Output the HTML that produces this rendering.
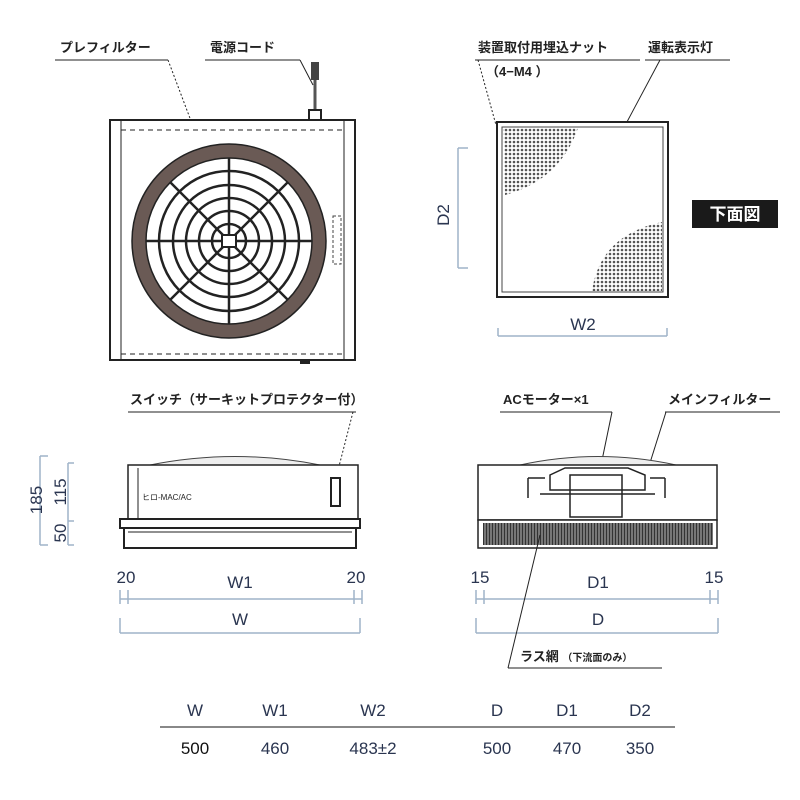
<!DOCTYPE html>
<html><head><meta charset="utf-8"><style>
body{margin:0;background:#fff}
svg{display:block}
text{font-family:"Liberation Sans","Noto Sans CJK JP",sans-serif}
.jp{font-size:13px;font-weight:bold;fill:#222}
.dim{font-size:17px;fill:#2a3550}
.dl{stroke:#9fb3c8;stroke-width:1.5;fill:none}
.k{stroke:#222;fill:none}
</style></head><body>
<svg width="800" height="800" viewBox="0 0 800 800">
<defs>
<pattern id="dots" width="4" height="4" patternUnits="userSpaceOnUse"><rect width="4" height="4" fill="#fff"/><circle cx="2" cy="2" r="1.3" fill="#555"/></pattern>
<pattern id="mesh" width="3" height="6" patternUnits="userSpaceOnUse"><rect width="3" height="6" fill="#777"/><rect width="1" height="6" fill="#333"/></pattern>
</defs>
<!-- top-left front view -->
<text class="jp" x="60" y="52">プレフィルター</text>
<line class="k" x1="55" y1="60" x2="168" y2="60" stroke-width="1"/>
<polyline class="k" points="168,60 202,150" stroke-dasharray="2,2"/>
<text class="jp" x="210" y="52">電源コード</text>
<line class="k" x1="205" y1="60" x2="300" y2="60" stroke-width="1"/>
<line class="k" x1="300" y1="60" x2="313" y2="85" stroke-width="1"/>
<rect x="311" y="62" width="8" height="18" fill="#444"/>
<line x1="315" y1="80" x2="315" y2="112" stroke="#555" stroke-width="3"/>
<rect x="309" y="110" width="12" height="10" fill="#fff" stroke="#222" stroke-width="2"/>
<rect x="110" y="120" width="245" height="240" fill="#fff" stroke="#222" stroke-width="2"/>
<line class="k" x1="121" y1="120" x2="121" y2="360"/>
<line class="k" x1="344" y1="120" x2="344" y2="360"/>
<line class="k" x1="121" y1="130" x2="344" y2="130" stroke-dasharray="5,4"/>
<line class="k" x1="121" y1="354" x2="344" y2="354" stroke-dasharray="5,4"/>
<rect x="333" y="216" width="8" height="48" fill="none" stroke="#444" stroke-dasharray="3,2"/>
<rect x="300" y="360" width="10" height="4" fill="#222"/>
<circle cx="229" cy="241" r="90" fill="none" stroke="#6a5a55" stroke-width="14"/>
<circle cx="229" cy="241" r="97" class="k" stroke-width="1.5"/>
<circle cx="229" cy="241" r="83" class="k" stroke-width="1.5"/>
<g class="k" stroke-width="2.5">
<circle cx="229" cy="241" r="70"/><circle cx="229" cy="241" r="56"/><circle cx="229" cy="241" r="43"/><circle cx="229" cy="241" r="30"/><circle cx="229" cy="241" r="17"/>
<line x1="229" y1="158" x2="229" y2="324"/><line x1="146" y1="241" x2="312" y2="241"/>
<line x1="170" y1="182" x2="288" y2="300"/><line x1="288" y1="182" x2="170" y2="300"/>
</g>
<rect x="222" y="235" width="14" height="12" fill="#fff" stroke="#222" stroke-width="2"/>
<!-- top-right bottom view -->
<text class="jp" x="478" y="52">装置取付用埋込ナット</text>
<line class="k" x1="475" y1="60" x2="640" y2="60"/>
<text class="jp" x="486" y="76" font-size="11">（4−M4 ）</text>
<line class="k" x1="478" y1="60" x2="496" y2="125" stroke-dasharray="2,2"/>
<text class="jp" x="648" y="52">運転表示灯</text>
<line class="k" x1="645" y1="60" x2="730" y2="60"/>
<line class="k" x1="660" y1="60" x2="580" y2="210"/>
<rect x="497" y="122" width="171" height="175" fill="#fff" stroke="#222" stroke-width="2"/>
<rect x="502" y="127" width="161" height="165" fill="none" stroke="#444"/>
<path d="M503,128 L578,128 Q560,180 505,195 Z" fill="url(#dots)"/>
<path d="M662,291 L592,291 Q600,235 662,222 Z" fill="url(#dots)"/>
<line class="dl" x1="458" y1="148" x2="458" y2="268"/>
<line class="dl" x1="458" y1="148" x2="468" y2="148"/><line class="dl" x1="458" y1="268" x2="468" y2="268"/>
<text class="dim" transform="translate(449,215) rotate(-90)" text-anchor="middle">D2</text>
<line class="dl" x1="498" y1="336" x2="667" y2="336"/>
<line class="dl" x1="498" y1="328" x2="498" y2="336"/><line class="dl" x1="667" y1="328" x2="667" y2="336"/>
<text class="dim" x="583" y="330" text-anchor="middle">W2</text>
<rect x="692" y="200" width="86" height="28" fill="#1a1a1a"/>
<text x="735" y="220" fill="#fff" font-size="17" font-weight="bold" text-anchor="middle">下面図</text>
<!-- bottom-left -->
<text class="jp" x="130" y="404">スイッチ（サーキットプロテクター付）</text>
<line class="k" x1="128" y1="412" x2="356" y2="412"/>
<line class="k" x1="353" y1="412" x2="336" y2="478" stroke-dasharray="2,2"/>
<path d="M150,465 Q235,448 320,465" fill="#eee" stroke="#444"/>
<rect x="128" y="465" width="230" height="55" fill="#fff" stroke="#222" stroke-width="1.5"/>
<line class="k" x1="138" y1="468" x2="138" y2="520"/>
<text x="142" y="500" font-size="8" fill="#222">ヒロ-MAC/AC</text>
<rect x="331" y="478" width="9" height="28" fill="#fff" stroke="#222" stroke-width="2"/>
<rect x="120" y="519" width="240" height="9" fill="#fff" stroke="#222" stroke-width="2"/>
<rect x="124" y="528" width="232" height="20" fill="#fff" stroke="#222" stroke-width="2"/>
<line class="k" x1="128" y1="532" x2="352" y2="532"/>
<line class="dl" x1="40" y1="456" x2="40" y2="545"/><line class="dl" x1="40" y1="456" x2="48" y2="456"/><line class="dl" x1="40" y1="545" x2="48" y2="545"/>
<line class="dl" x1="68" y1="463" x2="68" y2="545"/><line class="dl" x1="68" y1="463" x2="74" y2="463"/><line class="dl" x1="68" y1="521" x2="74" y2="521"/><line class="dl" x1="68" y1="545" x2="74" y2="545"/>
<text class="dim" transform="translate(42,500) rotate(-90)" text-anchor="middle">185</text>
<text class="dim" transform="translate(66,492) rotate(-90)" text-anchor="middle">115</text>
<text class="dim" transform="translate(66,533) rotate(-90)" text-anchor="middle">50</text>
<text class="dim" x="126" y="583" text-anchor="middle">20</text>
<text class="dim" x="240" y="588" text-anchor="middle">W1</text>
<text class="dim" x="356" y="583" text-anchor="middle">20</text>
<line class="dl" x1="120" y1="599" x2="362" y2="599"/>
<line class="dl" x1="120" y1="590" x2="120" y2="604"/><line class="dl" x1="128" y1="590" x2="128" y2="604"/><line class="dl" x1="354" y1="590" x2="354" y2="604"/><line class="dl" x1="362" y1="590" x2="362" y2="604"/>
<text class="dim" x="240" y="625" text-anchor="middle">W</text>
<line class="dl" x1="120" y1="633" x2="360" y2="633"/>
<line class="dl" x1="120" y1="618" x2="120" y2="633"/><line class="dl" x1="360" y1="618" x2="360" y2="633"/>
<!-- bottom-right -->
<text class="jp" x="503" y="404">ACモーター×1</text>
<line class="k" x1="500" y1="412" x2="612" y2="412"/>
<line class="k" x1="612" y1="412" x2="600" y2="470"/>
<text class="jp" x="668" y="404">メインフィルター</text>
<line class="k" x1="665" y1="412" x2="780" y2="412"/>
<line class="k" x1="666" y1="412" x2="632" y2="520"/>
<path d="M520,465 Q598,448 676,465" fill="#eee" stroke="#444"/>
<rect x="478" y="465" width="239" height="55" fill="#fff" stroke="#222" stroke-width="1.5"/>
<g class="k" stroke-width="1.5">
<path d="M550,475 L565,468 L628,468 L645,475 L645,490 L550,490 Z"/>
<rect x="570" y="475" width="52" height="42"/>
<line x1="528" y1="478" x2="528" y2="498"/><line x1="528" y1="478" x2="545" y2="478"/>
<line x1="665" y1="478" x2="665" y2="498"/><line x1="650" y1="478" x2="665" y2="478"/>
<line x1="540" y1="494" x2="655" y2="494"/>
</g>
<rect x="478" y="520" width="239" height="28" fill="#fff" stroke="#222" stroke-width="1.5"/>
<rect x="483" y="523" width="230" height="22" fill="url(#mesh)"/>
<text class="dim" x="480" y="583" text-anchor="middle">15</text>
<text class="dim" x="598" y="588" text-anchor="middle">D1</text>
<text class="dim" x="714" y="583" text-anchor="middle">15</text>
<line class="dl" x1="476" y1="599" x2="718" y2="599"/>
<line class="dl" x1="476" y1="590" x2="476" y2="604"/><line class="dl" x1="484" y1="590" x2="484" y2="604"/><line class="dl" x1="710" y1="590" x2="710" y2="604"/><line class="dl" x1="718" y1="590" x2="718" y2="604"/>
<text class="dim" x="598" y="625" text-anchor="middle">D</text>
<line class="dl" x1="476" y1="633" x2="718" y2="633"/>
<line class="dl" x1="476" y1="618" x2="476" y2="633"/><line class="dl" x1="718" y1="618" x2="718" y2="633"/>
<text class="jp" x="520" y="661">ラス網 <tspan font-size="10">（下流面のみ）</tspan></text>
<line class="k" x1="508" y1="668" x2="662" y2="668"/>
<line class="k" x1="508" y1="668" x2="540" y2="535"/>
<!-- table -->
<g class="dim" text-anchor="middle">
<text x="195" y="716">W</text><text x="275" y="716">W1</text><text x="373" y="716">W2</text><text x="497" y="716">D</text><text x="567" y="716">D1</text><text x="640" y="716">D2</text>
<text x="195" y="754" fill="#111">500</text><text x="275" y="754">460</text><text x="373" y="754">483±2</text><text x="497" y="754">500</text><text x="567" y="754">470</text><text x="640" y="754">350</text>
</g>
<line x1="160" y1="727" x2="675" y2="727" stroke="#888" stroke-width="2"/>
</svg>
</body></html>
